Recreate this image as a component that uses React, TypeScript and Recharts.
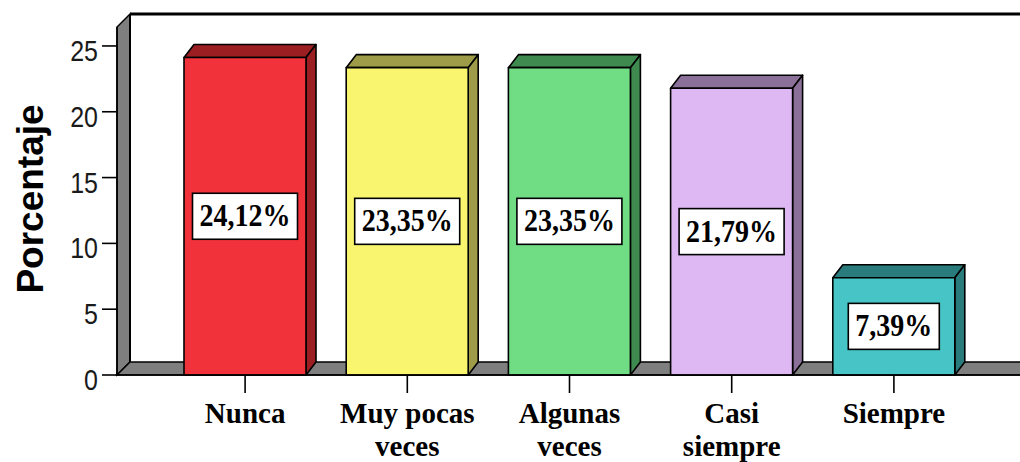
import { BarChart, Bar, XAxis, YAxis, LabelList, Customized } from 'recharts';

// Frequency of responses (percent)
const categories = ['Nunca', 'Muy pocas veces', 'Algunas veces', 'Casi siempre', 'Siempre'];
const percentages = [24.12, 23.35, 23.35, 21.79, 7.39];
const yTicks = [0, 5, 10, 15, 20, 25];
const yLabel = 'Porcentaje';

// Palette: front face and darker top/side faces for each bar
const FRONT_COLORS = ['#f2323b', '#f9f56e', '#70dc84', '#deb8f2', '#47c4c6'];
const SIDE_COLORS = ['#9a1e22', '#9e9b49', '#3f8b4f', '#8b7199', '#2a7b7c'];

const WIDTH = 1020;
const HEIGHT = 462;
const PLOT = { left: 117, top: 27, right: 1020, bottom: 375 };
const Y_MAX = 26.44;
const WALL_DEPTH = 13;
const BAR_DX = 10;
const BAR_DY = 13;
const TICK_STRETCH = 1.18;
const CATEGORY_STRETCH = 1.05;
const CATEGORY_LINE = 33;

const data = categories.map((name, i) => ({ name, value: percentages[i] }));

let measureCtx: CanvasRenderingContext2D | null = null;
const measure = (text: string, font: string) => {
  if (!measureCtx) measureCtx = document.createElement('canvas').getContext('2d');
  if (!measureCtx) return text.length * 15;
  measureCtx.font = font;
  return measureCtx.measureText(text).width;
};

const wrapWords = (text: string, font: string, maxWidth: number) => {
  const lines: string[] = [];
  let current = '';
  text.split(' ').forEach(word => {
    const next = current ? `${current} ${word}` : word;
    if (current && measure(next, font) > maxWidth) {
      lines.push(current);
      current = word;
    } else {
      current = next;
    }
  });
  if (current) lines.push(current);
  return lines;
};

// Back wall, left wall and floor of the 3D box
const Walls = () => {
  const d = WALL_DEPTH;
  return (
    <g>
      <rect x={PLOT.left + d} y={PLOT.top - d} width={PLOT.right - PLOT.left} height={PLOT.bottom - PLOT.top} fill="#fff" />
      <polygon
        points={`${PLOT.left},${PLOT.bottom} ${PLOT.left},${PLOT.top} ${PLOT.left + d},${PLOT.top - d} ${PLOT.left + d},${PLOT.bottom - d}`}
        fill="#7f7f7f"
        stroke="#000"
        strokeWidth={1.5}
      />
      <polygon
        points={`${PLOT.left},${PLOT.bottom} ${PLOT.left + d},${PLOT.bottom - d} ${PLOT.right + 5},${PLOT.bottom - d} ${PLOT.right + 5},${PLOT.bottom}`}
        fill="#7f7f7f"
        stroke="#000"
        strokeWidth={1.5}
      />
      <line x1={PLOT.left + d} y1={PLOT.top - d} x2={PLOT.right + 5} y2={PLOT.top - d} stroke="#000" strokeWidth={3} />
      <line x1={PLOT.left + d} y1={PLOT.top - d} x2={PLOT.left + d} y2={PLOT.bottom - d} stroke="#000" strokeWidth={2} />
      <text
        transform={`translate(43, 199) rotate(-90)`}
        textAnchor="middle"
        fontFamily="'Liberation Sans', Arial, sans-serif"
        fontWeight="bold"
        fontSize={37}
        fill="#000"
      >
        {yLabel}
      </text>
    </g>
  );
};

const Bar3D = (props: any) => {
  const { x, y, width, height, index } = props;
  if (width == null || height == null) return null;
  const front = FRONT_COLORS[index % FRONT_COLORS.length];
  const side = SIDE_COLORS[index % SIDE_COLORS.length];
  const r = x + width;
  const b = y + height;
  return (
    <g stroke="#000" strokeWidth={1.6} strokeLinejoin="round">
      <polygon points={`${x},${y} ${x + BAR_DX},${y - BAR_DY} ${r + BAR_DX},${y - BAR_DY} ${r},${y}`} fill={side} />
      <polygon points={`${r},${y} ${r + BAR_DX},${y - BAR_DY} ${r + BAR_DX},${b - BAR_DY} ${r},${b}`} fill={side} />
      <rect x={x} y={y} width={width} height={height} fill={front} />
    </g>
  );
};

const VALUE_FONT = "bold 28px 'Liberation Serif'";

const ValueBox = (props: any) => {
  const { x, y, width, height, value } = props;
  const text = `${Number(value).toFixed(2).replace('.', ',')}%`;
  const cx = x + width / 2;
  const cy = y + height / 2;
  const w = measure(text, VALUE_FONT) + 14;
  const h = 46;
  return (
    <g>
      <rect x={cx - w / 2} y={cy - h / 2} width={w} height={h} fill="#fff" stroke="#000" strokeWidth={1.6} />
      <text
        transform={`translate(${cx}, ${cy + 10}) scale(1, 1.1)`}
        textAnchor="middle"
        fontFamily="'Liberation Serif', 'Times New Roman', serif"
        fontWeight="bold"
        fontSize={28}
        fill="#000"
      >
        {text}
      </text>
    </g>
  );
};

const CATEGORY_FONT = "bold 29px 'Liberation Serif'";

// Category names wrap onto tightly spaced lines under each tick
const CategoryTick = (props: any) => {
  const { x, payload } = props;
  const lines = wrapWords(String(payload.value), CATEGORY_FONT, 140);
  return (
    <g>
      {lines.map((line, i) => (
        <text
          key={i}
          transform={`translate(${x}, ${PLOT.bottom + 48 + i * CATEGORY_LINE}) scale(1, ${CATEGORY_STRETCH})`}
          textAnchor="middle"
          fontFamily="'Liberation Serif', 'Times New Roman', serif"
          fontWeight="bold"
          fontSize={29}
          fill="#000"
        >
          {line}
        </text>
      ))}
    </g>
  );
};

const ValueTick = (props: any) => {
  const { y, payload } = props;
  return (
    <text
      transform={`translate(${PLOT.left - 19}, ${y + 15}) scale(1, ${TICK_STRETCH})`}
      textAnchor="end"
      fontFamily="'Liberation Sans', Arial, sans-serif"
      fontSize={25}
      fill="#1a1a1a"
    >
      {payload.value}
    </text>
  );
};

export default function App() {
  return (
    <div style={{ position: 'absolute', left: 0, top: 0, width: WIDTH, height: HEIGHT, overflow: 'hidden', background: '#fff' }}>
      <BarChart
        width={WIDTH}
        height={HEIGHT}
        data={data}
        margin={{ top: PLOT.top, right: WIDTH - PLOT.right, bottom: 0, left: 0 }}
      >
        <Customized component={Walls} />
        <XAxis
          dataKey="name"
          height={HEIGHT - PLOT.bottom}
          padding={{ left: 47, right: 45 }}
          interval={0}
          tickSize={18}
          tickLine={{ stroke: '#000', strokeWidth: 1.6 }}
          axisLine={{ stroke: '#000', strokeWidth: 1.6 }}
          tick={<CategoryTick />}
        />
        <YAxis
          width={PLOT.left}
          domain={[0, Y_MAX]}
          ticks={yTicks}
          tickSize={15}
          tickLine={{ stroke: '#000', strokeWidth: 1.6 }}
          axisLine={{ stroke: '#000', strokeWidth: 1.6 }}
          tick={<ValueTick />}
        />
        <Bar dataKey="value" barSize={122} shape={<Bar3D />} isAnimationActive={false}>
          <LabelList dataKey="value" content={<ValueBox />} />
        </Bar>
      </BarChart>
    </div>
  );
}
